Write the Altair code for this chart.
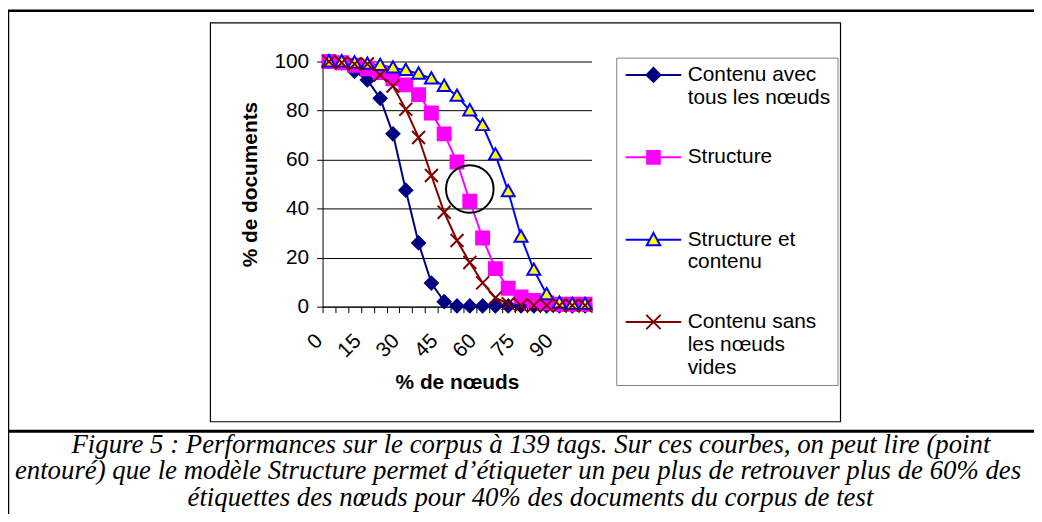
import json
import altair as alt
import pandas as pd

# ---------------- data ----------------
pct = list(range(0, 105, 5))
series_names = [
    "Contenu avec tous les nœuds",
    "Structure",
    "Structure et contenu",
    "Contenu sans les nœuds vides",
]
contenu_avec = [100, 99.5, 96, 92.5, 85, 70.5, 47.5, 26, 9.6, 2, 0.3, 0.3, 0.3, 0.3, 0.3, 0.3, 0.3, 0.3, 0.3, 0.3, 0.3]
structure = [100, 99.5, 98.5, 97, 95.5, 93, 90.5, 86.5, 79, 70.5, 59, 43, 28, 15.5, 7.5, 4, 2.5, 1.5, 1, 1, 1]
structure_contenu = [100, 100, 99.5, 99, 98.5, 97.5, 96.5, 95, 93, 90, 86, 80, 74, 62, 47, 28.5, 15, 5, 1.5, 1, 1]
contenu_sans = [100, 99.5, 99, 99, 94.5, 90, 80.5, 69, 53.5, 38.5, 27, 18, 9.7, 3.6, 1.2, 0.5, 0.5, 0.5, 0.5, 0.5, 0.5]
shown_x_labels = [0, 15, 30, 45, 60, 75, 90]
y_ticks = [0, 20, 40, 60, 80, 100]
annot_x = [55]
annot_y = [48]
legend_lines = [
    ["Contenu avec", "tous les nœuds"],
    ["Structure"],
    ["Structure et", "contenu"],
    ["Contenu sans", "les nœuds", "vides"],
]
caption = [
    "Figure 5 : Performances sur le corpus à 139 tags. Sur ces courbes, on  peut lire  (point",
    "entouré) que le modèle Structure permet d’étiqueter un peu plus de retrouver plus de 60% des",
    "étiquettes des nœuds pour 40% des documents du corpus de test",
]

# ---------------- styles ----------------
stroke_colors = ["#000080", "#FF00FF", "#0000FF", "#800000"]
fill_colors = ["#000080", "#FF00FF", "#FFFF00", "transparent"]
marker_paths = [
    "M0,-1L1,0L0,1L-1,0Z",
    "M-1,-1L1,-1L1,1L-1,1Z",
    "M0,-1L1,0.75L-1,0.75Z",
    "M-1,-1L1,1M-1,1L1,-1",
]
legend_paths = [
    "M-1,0L6,0M2.5,-0.875L3.375,0L2.5,0.875L1.625,0Z",
    "M-1,0L6,0M1.7,-0.8L3.3,-0.8L3.3,0.8L1.7,0.8Z",
    "M-1,0L2.03,0M2.97,0L6,0M2.5,-0.85L3.35,0.7L1.65,0.7Z",
    "M-1,0L6,0M1.6,-0.9L3.4,0.9M1.6,0.9L3.4,-0.9",
]

rows = []
for name, vals in zip(series_names, [contenu_avec, structure, structure_contenu, contenu_sans]):
    for p, v in zip(pct, vals):
        rows.append({"pct": p, "val": v, "serie": name})
df = pd.DataFrame(rows)


def ternary(keys, vals, var):
    expr = "''"
    for k, v in reversed(list(zip(keys, vals))):
        expr = f"({var} === {json.dumps(k, ensure_ascii=False)} ? {json.dumps(v, ensure_ascii=False)} : {expr})"
    return expr


label_expr = ternary(series_names, legend_lines, "datum.label")

legend = alt.Legend(
    title=None,
    orient="none",
    legendX=296,
    legendY=-4,
    direction="vertical",
    symbolSize=256,
    symbolStrokeWidth=2,
    symbolOpacity=1,
    labelFont="Liberation Sans",
    labelFontSize=21,
    labelColor="black",
    labelOffset=44,
    labelLimit=400,
    labelBaseline="middle",
    labelExpr=label_expr,
    rowPadding=15,
    padding=7,
    strokeColor="#808080",
    fillColor="white",
    gridAlign="all",
)

x_enc = alt.X(
    "pct:O",
    bandPosition=0.5,
    scale=alt.Scale(type="band", paddingInner=0, paddingOuter=0),
    axis=alt.Axis(
        tickBand="extent",
        labelExpr=f"indexof({json.dumps(shown_x_labels)}, datum.value) >= 0 ? datum.label : ''",
        labelAngle=315,
        labelAlign="right",
        labelBaseline="middle",
        labelOffset=-10,
        labelPadding=25,
        labelOverlap=False,
        labelFont="Liberation Sans",
        labelFontSize=21,
        labelColor="black",
        tickSize=6,
        tickColor="black",
        domainColor="black",
        grid=False,
        title="% de nœuds",
        titleFont="Liberation Sans",
        titleFontSize=21,
        titleFontWeight="bold",
        titleColor="black",
        titleY=83,
        titleBaseline="alphabetic",
    ),
)
y_enc = alt.Y(
    "val:Q",
    scale=alt.Scale(domain=[0, 100], nice=False),
    axis=alt.Axis(
        values=y_ticks,
        grid=True,
        gridColor={"condition": {"test": "datum.value === 100", "value": "#808080"}, "value": "#000000"},
        gridWidth={"condition": {"test": "datum.value === 100", "value": 2}, "value": 1},
        domainColor="black",
        tickColor="black",
        tickSize=6,
        labelFont="Liberation Sans",
        labelFontSize=21,
        labelColor="black",
        labelPadding=8,
        title="% de documents",
        titleFont="Liberation Sans",
        titleFontSize=21,
        titleFontWeight="bold",
        titleColor="black",
        titleAngle=270,
        titleX=-67,
        titleY=123.5,
        titleBaseline="alphabetic",
    ),
)


def stroke_enc(lg):
    return alt.Stroke("serie:N", scale=alt.Scale(domain=series_names, range=stroke_colors), legend=lg)


def fill_enc(lg):
    return alt.Fill("serie:N", scale=alt.Scale(domain=series_names, range=fill_colors), legend=lg)


def shape_enc(paths, lg):
    return alt.Shape("serie:N", scale=alt.Scale(domain=series_names, range=paths), legend=lg)


lines = alt.Chart(df).mark_line(strokeWidth=2).encode(
    x=x_enc, y=y_enc, stroke=stroke_enc(None), detail="serie:N"
)
points = alt.Chart(df).mark_point(size=170, strokeWidth=2, opacity=1).encode(
    x=x_enc, y=y_enc, stroke=stroke_enc(None), fill=fill_enc(None), shape=shape_enc(marker_paths, None)
)
legend_layer = alt.Chart(df).mark_point(size=170, strokeWidth=2, opacity=0).encode(
    x=x_enc, y=y_enc, stroke=stroke_enc(legend), fill=fill_enc(legend), shape=shape_enc(legend_paths, legend)
)
annot = alt.Chart(pd.DataFrame({"pct": annot_x, "val": annot_y})).mark_point(
    shape="circle", size=2304, stroke="black", strokeWidth=2, fill="transparent", opacity=1
).encode(x=alt.X("pct:O"), y=alt.Y("val:Q"))

one = alt.Data(values=[{"k": 1}])
inner_box = alt.Chart(one).mark_rect(fill="transparent", stroke="black", strokeWidth=1.2).encode(
    x=alt.value(-113), x2=alt.value(522), y=alt.value(-39), y2=alt.value(363)
)
frame_left = alt.Chart(one).mark_rule(color="black", strokeWidth=2.5).encode(
    x=alt.value(-317), y=alt.value(-52), y2=alt.value(460)
)
frame_top = alt.Chart(one).mark_rule(color="black", strokeWidth=2.5).encode(
    x=alt.value(-318), x2=alt.value(720), y=alt.value(-51.3)
)
frame_mid = alt.Chart(one).mark_rule(color="black", strokeWidth=3).encode(
    x=alt.value(-318), x2=alt.value(720), y=alt.value(372.5)
)

cap_x = [210, 197, 209.5]
cap_y = [394, 421, 448]
cap_layers = [
    alt.Chart(one).mark_text(
        font="Liberation Serif", fontStyle="italic", fontSize=27, align="center",
        baseline="alphabetic", color="black",
    ).encode(x=alt.value(cx), y=alt.value(cy), text=alt.value(t))
    for t, cx, cy in zip(caption, cap_x, cap_y)
]

chart = alt.layer(
    inner_box, frame_left, frame_top, frame_mid,
    lines, points, legend_layer, annot, *cap_layers
).resolve_scale(
    stroke="independent", fill="independent", shape="independent"
).properties(
    width=271,
    height=247,
    autosize=alt.AutoSizeParams(type="none"),
    padding={"left": 317, "top": 52, "right": 446, "bottom": 207},
    background="white",
).configure_view(stroke=None)

chart.save("out.html", embed_options={"renderer": "svg", "actions": False})
